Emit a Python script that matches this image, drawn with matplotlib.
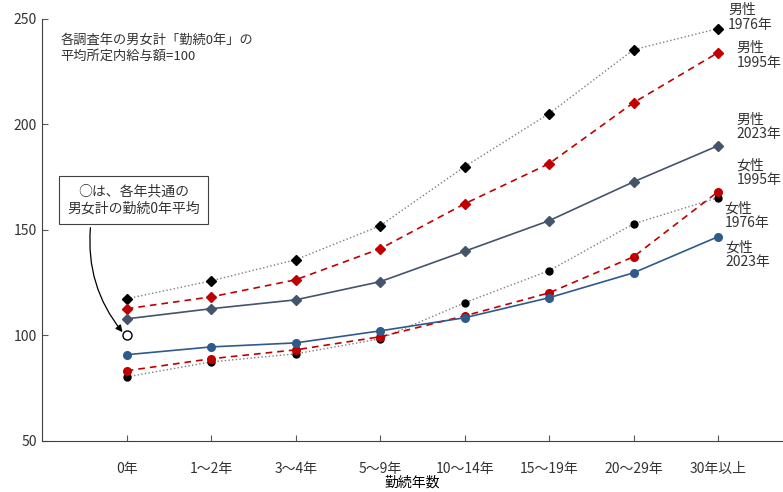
import matplotlib
matplotlib.use("Agg")
import matplotlib.pyplot as plt

plt.rcParams['font.family'] = ['Noto Sans CJK JP', 'DejaVu Sans']
plt.rcParams['text.color'] = '#333333'
plt.rcParams['xtick.labelcolor'] = '#333333'
plt.rcParams['ytick.labelcolor'] = '#333333'

categories = ['0年', '1～2年', '3～4年', '5～9年', '10～14年', '15～19年', '20～29年', '30年以上']

male_1976 = [117.3, 125.8, 135.8, 151.9, 179.9, 205.0, 235.3, 245.3]
male_1995 = [112.6, 118.2, 126.3, 141.0, 162.3, 181.3, 210.2, 233.9]
male_2023 = [107.8, 112.6, 116.8, 125.4, 139.8, 154.3, 172.7, 189.8]
female_1976 = [80.3, 87.4, 91.2, 98.3, 115.4, 130.6, 152.8, 165.2]
female_1995 = [83.2, 88.9, 93.1, 99.3, 109.2, 120.1, 137.2, 168.0]
female_2023 = [90.8, 94.5, 96.4, 102.1, 108.3, 117.8, 129.6, 146.7]
base_value = 100

fig = plt.figure(figsize=(7.83, 4.92), dpi=100)
ax = fig.add_axes([0.054, 0.104, 0.946, 0.858])
x = list(range(len(categories)))

red = '#C00000'
slate = '#44546A'
blue = '#2F5A8C'

# 男性: diamonds, 女性: circles
ax.plot(x, male_1976, color='#7f7f7f', ls=':', lw=1, marker='D', ms=5, mfc='black', mec='black')
ax.plot(x, male_1995, color=red, ls=(0, (4, 3)), lw=1.2, marker='D', ms=5, mfc=red, mec=red)
ax.plot(x, male_2023, color=slate, ls='-', lw=1.2, marker='D', ms=5, mfc=slate, mec=slate)
ax.plot(x, female_1976, color='#7f7f7f', ls=':', lw=1, marker='o', ms=5, mfc='black', mec='black')
ax.plot(x, female_1995, color=red, ls=(0, (4, 3)), lw=1.2, marker='o', ms=5.5, mfc=red, mec=red)
ax.plot(x, female_2023, color=blue, ls='-', lw=1.2, marker='o', ms=5.5, mfc=blue, mec=blue)
ax.plot([0], [base_value], ls='none', marker='o', ms=6.5, mfc='white', mec='black', mew=1)

ax.set_xlim(-1, 7.77)
ax.set_ylim(50, 250)
ax.set_yticks([50, 100, 150, 200, 250])
ax.set_xticks(x)
ax.set_xticklabels(categories)
ax.tick_params(direction='in', length=4, labelsize=10, color='#595959')
ax.tick_params(axis='x', pad=15)
ax.tick_params(axis='y', pad=4)
ax.spines['top'].set_visible(False)
ax.spines['right'].set_visible(False)
ax.spines['left'].set_color('#404040')
ax.spines['bottom'].set_color('#404040')
ax.set_xlabel('勤続年数', fontsize=10, labelpad=0)

ax.text(0.025, 0.965, '各調査年の男女計「勤続0年」の\n平均所定内給与額=100', transform=ax.transAxes,
        fontsize=9.5, va='top', ha='left', linespacing=1.3)

# note box and curved arrow to the open circle
ax.text(0.08, 164, '○は、各年共通の\n男女計の勤続0年平均', fontsize=10, ha='center', va='center',
        linespacing=1.3, bbox=dict(boxstyle='square,pad=0.6', fc='white', ec='#404040', lw=0.8))
ax.annotate('', xy=(-0.05, 101.5), xytext=(-0.43, 151),
            arrowprops=dict(arrowstyle='-|>', color='black', lw=0.9,
                            connectionstyle='arc3,rad=0.2', shrinkA=0, shrinkB=0))

labels = [
    ('男性\n1976年', 7.12, 250.5),
    ('男性\n1995年', 7.22, 232.5),
    ('男性\n2023年', 7.22, 198.8),
    ('女性\n1995年', 7.22, 176.8),
    ('女性\n1976年', 7.08, 156.6),
    ('女性\n2023年', 7.09, 138.0),
]
for txt, lx, ly in labels:
    ax.text(lx, ly, txt, fontsize=10, ha='left', va='center', linespacing=1.05, clip_on=False)

fig.savefig('out.png', dpi=100)
